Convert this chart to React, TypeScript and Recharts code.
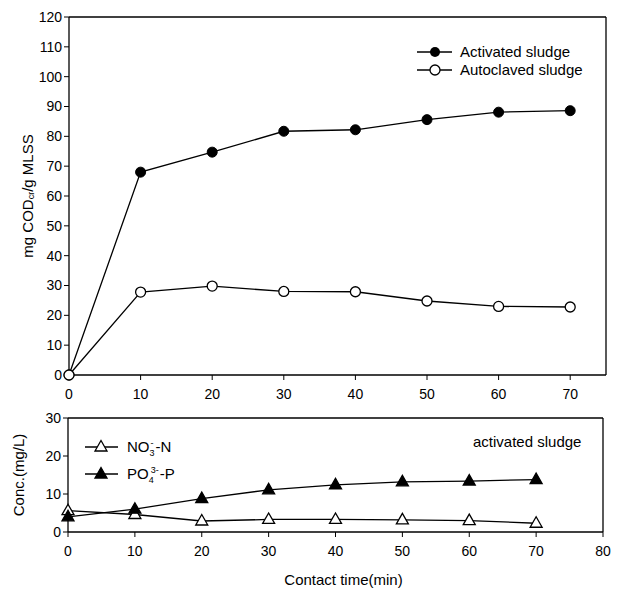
import React from "react";
import { LineChart, Line, XAxis, YAxis, ReferenceLine, Label } from "recharts";

const minutes = [0, 10, 20, 30, 40, 50, 60, 70];
const activatedSludge = [0, 68, 74.7, 81.7, 82.2, 85.6, 88.1, 88.6];
const autoclavedSludge = [0, 27.8, 29.8, 28, 27.9, 24.8, 23, 22.8];
const nitrate = [5.6, 4.6, 2.9, 3.3, 3.3, 3.2, 3.0, 2.3];
const phosphate = [4.0, 6.0, 8.8, 11.1, 12.4, 13.2, 13.4, 13.8];

const topYTicks = [0, 10, 20, 30, 40, 50, 60, 70, 80, 90, 100, 110, 120];
const topXTicks = [0, 10, 20, 30, 40, 50, 60, 70];
const bottomYTicks = [0, 10, 20, 30];
const bottomXTicks = [0, 10, 20, 30, 40, 50, 60, 70, 80];

const codData = minutes.map((t, i) => ({ t, act: activatedSludge[i], auto: autoclavedSludge[i] }));
const concData = minutes.map((t, i) => ({ t, no3: nitrate[i], po4: phosphate[i] }));

const FONT = "'Liberation Sans', Arial, sans-serif";
const tickStyle = { fill: "#000", fontSize: 14, fontFamily: FONT };

function triangle(filled: boolean) {
    return (props: any) => {
        const { cx, cy, index } = props;
        if (cx == null || cy == null) return <g key={index} />;
        return (
            <polygon
                key={index}
                points={`${cx},${cy - 6.5} ${cx - 6},${cy + 4} ${cx + 6},${cy + 4}`}
                fill={filled ? "#000" : "#fff"}
                stroke="#000"
                strokeWidth={1.3}
            />
        );
    };
}

function TopLegend() {
    return (
        <svg width={623} height={100} style={{ position: "absolute", left: 0, top: 0, pointerEvents: "none" }}>
            <line x1={417} x2={452} y1={52} y2={52} stroke="#000" strokeWidth={1.3} />
            <circle cx={435} cy={52} r={5} fill="#000" />
            <text x={460} y={57} fontSize={15} fontFamily={FONT}>Activated sludge</text>
            <line x1={417} x2={452} y1={70} y2={70} stroke="#000" strokeWidth={1.3} />
            <circle cx={435} cy={70} r={5} fill="#fff" stroke="#000" strokeWidth={1.3} />
            <text x={460} y={75} fontSize={15} fontFamily={FONT}>Autoclaved sludge</text>
        </svg>
    );
}

function BottomLegend() {
    const tri = (cx: number, cy: number, filled: boolean) => (
        <polygon points={`${cx},${cy - 6.5} ${cx - 6},${cy + 4} ${cx + 6},${cy + 4}`} fill={filled ? "#000" : "#fff"} stroke="#000" strokeWidth={1.3} />
    );
    return (
        <svg width={623} height={100} style={{ position: "absolute", left: 0, top: 0, pointerEvents: "none" }}>
            <line x1={85} x2={118} y1={47} y2={47} stroke="#000" strokeWidth={1.3} />
            {tri(101, 47, false)}
            <text x={127} y={52} fontSize={15} fontFamily={FONT}>
                NO<tspan fontSize={9} dy={4}>3</tspan>
                <tspan fontSize={9} dy={-10} dx={-4}>-</tspan>
                <tspan dy={6} dx={2}>-N</tspan>
            </text>
            <line x1={85} x2={118} y1={74} y2={74} stroke="#000" strokeWidth={1.3} />
            {tri(101, 74, true)}
            <text x={127} y={79} fontSize={15} fontFamily={FONT}>
                PO<tspan fontSize={9} dy={4}>4</tspan>
                <tspan fontSize={9} dy={-10} dx={-3}>3-</tspan>
                <tspan dy={6} dx={1}>-P</tspan>
            </text>
            <text x={473} y={47} fontSize={15} fontFamily={FONT}>activated sludge</text>
        </svg>
    );
}

function CodLabel(props: any) {
    const { viewBox } = props;
    const cx = 27;
    const cy = viewBox.y + viewBox.height / 2;
    return (
        <text x={cx} y={cy} transform={`rotate(-90, ${cx}, ${cy})`} textAnchor="middle" dominantBaseline="central" fontSize={15} fontFamily={FONT}>
            mg COD<tspan fontSize={9} dy={4}>cr</tspan>
            <tspan dy={-4}>/g MLSS</tspan>
        </text>
    );
}

function ConcLabel(props: any) {
    const { viewBox } = props;
    const cx = 18;
    const cy = viewBox.y + viewBox.height / 2;
    return (
        <text x={cx} y={cy} transform={`rotate(-90, ${cx}, ${cy})`} textAnchor="middle" dominantBaseline="central" fontSize={15} fontFamily={FONT}>
            Conc.(mg/L)
        </text>
    );
}

function TimeLabel(props: any) {
    const { viewBox } = props;
    const cx = viewBox.x + viewBox.width / 2 + 8;
    return (
        <text x={cx} y={185} textAnchor="middle" fontSize={15} fontFamily={FONT}>
            Contact time(min)
        </text>
    );
}

export default function App() {
    return (
        <div style={{ position: "absolute", left: 0, top: 0, width: 623, height: 594, background: "#fff" }}>
            <div style={{ position: "absolute", left: 0, top: 0 }}>
                <LineChart width={623} height={410} data={codData} margin={{ top: 17, right: 17, bottom: 5, left: 29 }}>
                    <XAxis dataKey="t" type="number" domain={[0, 75]} ticks={topXTicks} tick={tickStyle} tickSize={5} tickMargin={9} height={30}
                        axisLine={{ stroke: "#000", strokeWidth: 1.3 }} tickLine={{ stroke: "#000" }} />
                    <YAxis type="number" domain={[0, 120]} ticks={topYTicks} tick={tickStyle} tickSize={5} width={40} interval={0}
                        axisLine={{ stroke: "#000", strokeWidth: 1.3 }} tickLine={{ stroke: "#000" }}>
                        <Label content={<CodLabel />} />
                    </YAxis>
                    <ReferenceLine y={120} stroke="#000" strokeWidth={1.3} />
                    <ReferenceLine x={75} stroke="#000" strokeWidth={1.3} />
                    <Line dataKey="act" stroke="#000" strokeWidth={1.3} isAnimationActive={false}
                        dot={{ r: 5, fill: "#000", stroke: "#000", strokeWidth: 1 }} />
                    <Line dataKey="auto" stroke="#000" strokeWidth={1.3} isAnimationActive={false}
                        dot={{ r: 5, fill: "#fff", stroke: "#000", strokeWidth: 1.3 }} />
                </LineChart>
                <TopLegend />
            </div>
            <div style={{ position: "absolute", left: 0, top: 400 }}>
                <LineChart width={623} height={194} data={concData} margin={{ top: 18, right: 20, bottom: 12, left: 28 }}>
                    <XAxis dataKey="t" type="number" domain={[0, 80]} ticks={bottomXTicks} tick={tickStyle} tickSize={5} tickMargin={9} height={50}
                        axisLine={{ stroke: "#000", strokeWidth: 1.3 }} tickLine={{ stroke: "#000" }}>
                        <Label content={<TimeLabel />} />
                    </XAxis>
                    <YAxis type="number" domain={[0, 30]} ticks={bottomYTicks} tick={tickStyle} tickSize={5} width={40}
                        axisLine={{ stroke: "#000", strokeWidth: 1.3 }} tickLine={{ stroke: "#000" }}>
                        <Label content={<ConcLabel />} />
                    </YAxis>
                    <ReferenceLine y={30} stroke="#000" strokeWidth={1.3} />
                    <ReferenceLine x={80} stroke="#000" strokeWidth={1.3} />
                    <Line dataKey="no3" stroke="#000" strokeWidth={1.3} isAnimationActive={false} dot={triangle(false)} />
                    <Line dataKey="po4" stroke="#000" strokeWidth={1.3} isAnimationActive={false} dot={triangle(true)} />
                </LineChart>
                <BottomLegend />
            </div>
        </div>
    );
}
